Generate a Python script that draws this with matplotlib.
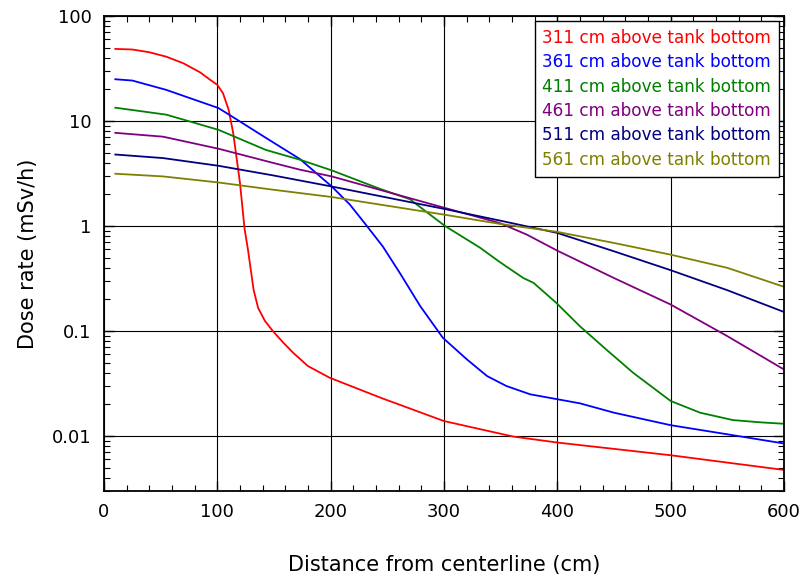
import matplotlib
matplotlib.use("Agg")
import matplotlib.pyplot as plt
from matplotlib.ticker import FixedLocator, FixedFormatter, MultipleLocator, LogLocator, NullFormatter

plt.rcParams["font.family"] = ["DejaVu Sans"]

# ── Data (distance in cm, dose rate in mSv/h) ──
X_311 = [10, 25, 40, 55, 70, 85, 93, 100, 105, 110, 114, 120, 124, 127, 132, 136, 142, 149, 158, 167, 180, 199, 244, 300, 361, 400, 500, 600]
Y_311 = [48.6, 48.0, 45.2, 41.0, 35.5, 29.0, 25.0, 22.1, 18.4, 12.8, 7.7, 2.57, 0.95, 0.6, 0.248, 0.166, 0.125, 0.1, 0.078, 0.062, 0.0464, 0.036, 0.0232, 0.0139, 0.0099, 0.00868, 0.00657, 0.00476]

X_361 = [10, 25, 55, 76, 101, 120, 143, 173, 201, 217, 232, 246, 261, 279, 299, 320, 338, 355, 376, 420, 450, 500, 550, 600]
Y_361 = [25.0, 24.3, 19.8, 16.5, 13.3, 9.9, 6.9, 4.34, 2.38, 1.6, 1.0, 0.64, 0.358, 0.173, 0.0863, 0.054, 0.0373, 0.030, 0.025, 0.0205, 0.0167, 0.0127, 0.0104, 0.0085]

X_411 = [10, 55, 101, 143, 173, 201, 244, 270, 282, 301, 332, 349, 370, 379, 399, 420, 443, 467, 500, 526, 555, 580, 600]
Y_411 = [13.4, 11.5, 8.25, 5.3, 4.28, 3.39, 2.25, 1.8, 1.43, 1.0, 0.62, 0.456, 0.32, 0.288, 0.186, 0.111, 0.067, 0.040, 0.0216, 0.0167, 0.0142, 0.0135, 0.0131]

X_461 = [10, 52, 101, 149, 173, 201, 241, 301, 349, 373, 400, 450, 500, 550, 600]
Y_461 = [7.72, 7.1, 5.45, 4.0, 3.44, 2.97, 2.25, 1.486, 1.07, 0.83, 0.583, 0.32, 0.179, 0.0895, 0.0431]

X_511 = [10, 52, 101, 149, 201, 301, 349, 400, 450, 500, 550, 600]
Y_511 = [4.8, 4.44, 3.75, 3.04, 2.38, 1.45, 1.13, 0.86, 0.575, 0.38, 0.245, 0.152]

X_561 = [10, 52, 101, 149, 201, 301, 349, 400, 450, 500, 550, 600]
Y_561 = [3.15, 2.97, 2.6, 2.22, 1.89, 1.28, 1.05, 0.88, 0.69, 0.534, 0.40, 0.264]

SERIES = [
    ("311 cm above tank bottom", X_311, Y_311, "#ff0000"),
    ("361 cm above tank bottom", X_361, Y_361, "#0000ff"),
    ("411 cm above tank bottom", X_411, Y_411, "#008000"),
    ("461 cm above tank bottom", X_461, Y_461, "#800080"),
    ("511 cm above tank bottom", X_511, Y_511, "#000080"),
    ("561 cm above tank bottom", X_561, Y_561, "#808000"),
]

Y_TICKS = [0.01, 0.1, 1, 10, 100]
Y_TICK_LABELS = ["0.01", "0.1", "1", "10", "100"]

fig = plt.figure(figsize=(8.03, 5.85), dpi=100)
ax = fig.add_axes([0.1295, 0.1607, 0.8468, 0.8119])

for label, xs, ys, col in SERIES:
    ax.plot(xs, ys, color=col, linewidth=1.3, label=label)

ax.set_yscale("log")
ax.set_xlim(0, 600)
ax.set_ylim(0.003, 100)

ax.xaxis.set_major_locator(MultipleLocator(100))
ax.xaxis.set_minor_locator(MultipleLocator(20))
ax.yaxis.set_major_locator(FixedLocator(Y_TICKS))
ax.yaxis.set_major_formatter(FixedFormatter(Y_TICK_LABELS))
ax.yaxis.set_minor_locator(LogLocator(base=10, subs=range(2, 10)))
ax.yaxis.set_minor_formatter(NullFormatter())

ax.tick_params(which="both", direction="in", top=True, right=True, labelsize=13)
ax.tick_params(which="major", length=7, width=1.0, pad=9)
ax.tick_params(which="minor", length=4, width=0.8)

ax.grid(True, which="major", color="black", linewidth=0.8)
for sp in ax.spines.values():
    sp.set_linewidth(1.3)

ax.set_xlabel("Distance from centerline (cm)", fontsize=15, labelpad=24)
ax.set_ylabel("Dose rate (mSv/h)", fontsize=15, labelpad=10)

leg = ax.legend(loc="upper right", handlelength=0, handletextpad=0,
                fontsize=12.2, frameon=True, fancybox=False, framealpha=1,
                edgecolor="black", borderaxespad=0.3, labelspacing=0.38,
                borderpad=0.45)
for h in leg.legend_handles:
    h.set_visible(False)
for txt, (_, _, _, col) in zip(leg.get_texts(), SERIES):
    txt.set_color(col)
leg.get_frame().set_linewidth(1.0)

fig.savefig("out.png", dpi=100)
